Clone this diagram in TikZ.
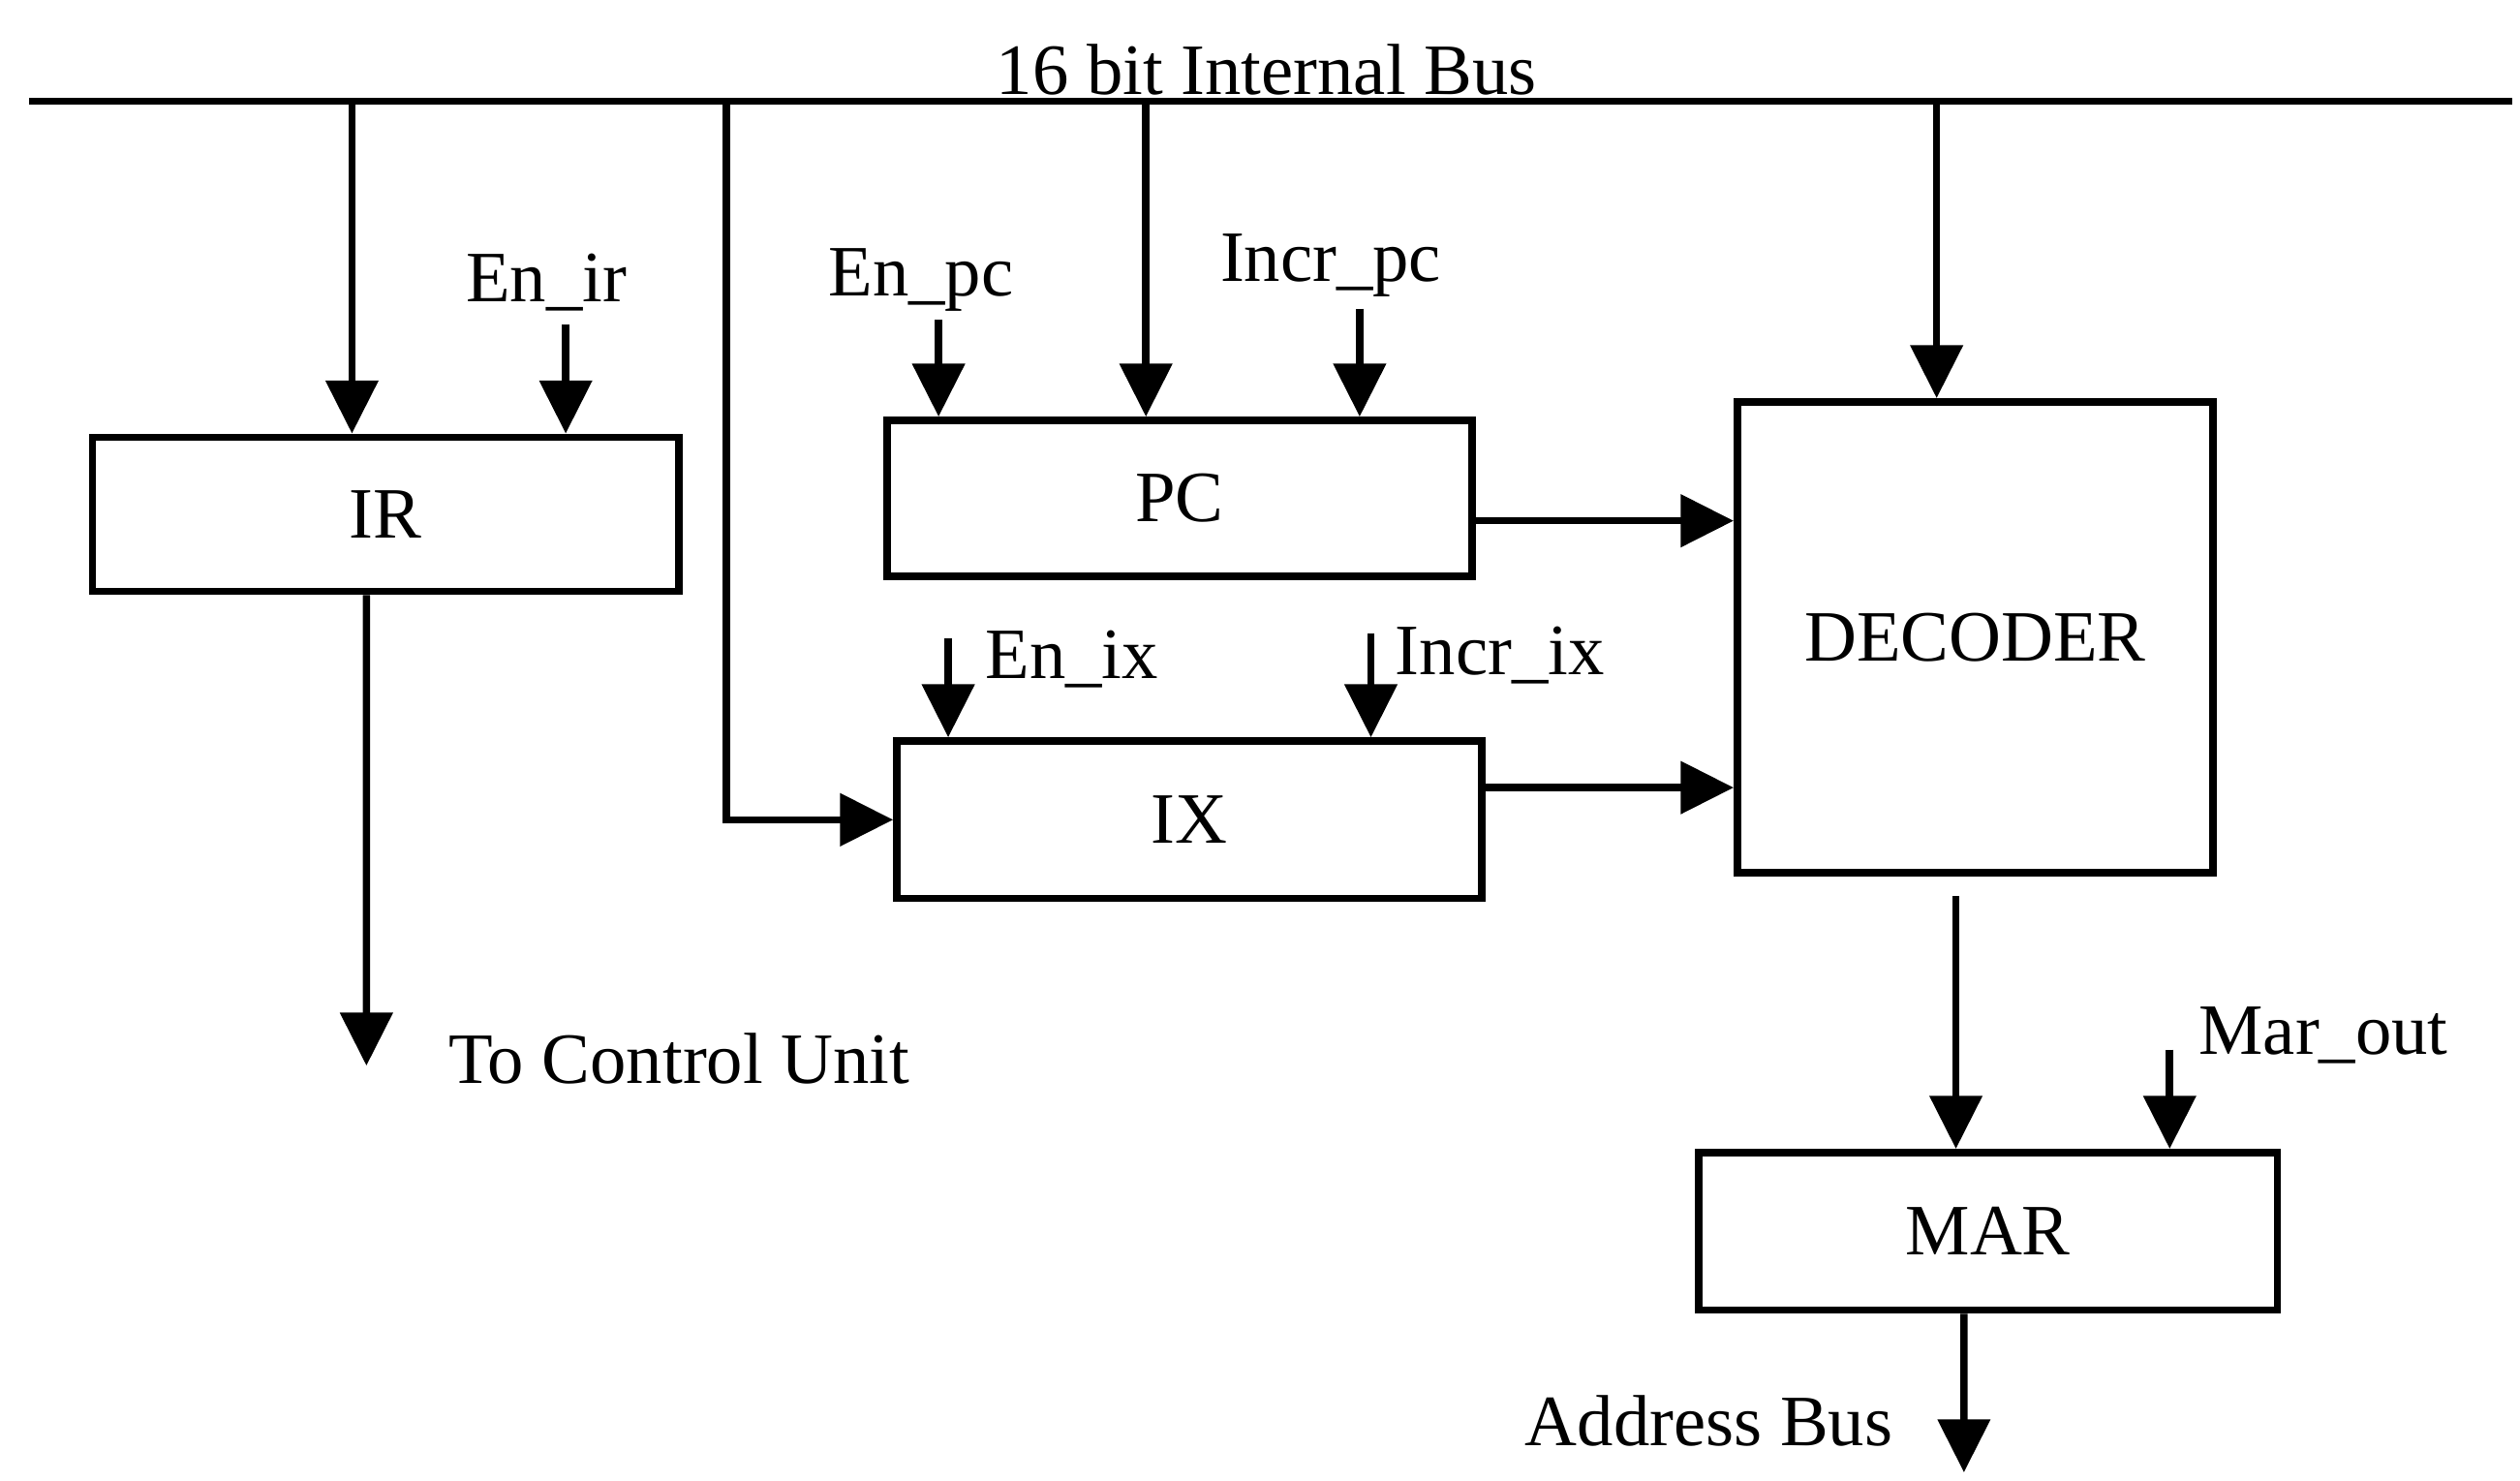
\documentclass[tikz,border=0pt]{standalone}
\usepackage{fontspec}
\setmainfont{Liberation Serif}
\usepackage{tikz}
\usetikzlibrary{arrows.meta,positioning,calc}

\begin{document}
\begin{tikzpicture}[
  line width=1.3pt,
  font=\fontsize{12.8}{15}\selectfont,
  reg/.style={draw,line width=1.3pt,inner sep=0pt},
  arr/.style={-{Triangle[length=3.3mm,width=3.2mm]}},
  sig/.style={inner sep=0pt}]
 \useasboundingbox (0,0) rectangle (15.68,-9.21);
 % internal bus
 \coordinate (busl) at (0.18,-0.63);
 \coordinate (busr) at (15.63,-0.63);
 \draw (busl) -- (busr);
 \node[sig,anchor=base] (busname) at (7.88,-0.59) {16 bit Internal Bus};
 % registers
 \node[reg,minimum width=3.65cm,minimum height=0.96cm] (ir) at (2.40,-3.20) {IR};
 \node[reg,minimum width=3.64cm,minimum height=0.97cm] (pc) at (7.34,-3.10) {PC};
 \node[reg,minimum width=3.64cm,minimum height=0.98cm] (ix) at (7.40,-5.10) {IX};
 \node[reg,minimum width=2.96cm,minimum height=2.93cm] (dec) at (12.29,-3.965) {DECODER};
 \node[reg,minimum width=3.60cm,minimum height=0.98cm] (mar) at (12.37,-7.66) {MAR};
 % taps off the bus
 \coordinate (b1) at (2.19,-0.63);
 \coordinate (b2) at (4.52,-0.63);
 \coordinate (b3) at (7.13,-0.63);
 \coordinate (b4) at (12.05,-0.63);
 \draw[arr] (b1) -- (b1 |- ir.north);
 \draw[arr] (b2) |- (ix.west);
 \draw[arr] (b3) -- (b3 |- pc.north);
 \draw[arr] (b4) -- (b4 |- dec.north);
 % control signals, label above
 \foreach \nm/\txt/\lx/\ly/\ax/\ay/\reg in {
   enir/{En\_ir}/3.40/-1.88/3.52/-2.02/ir,
   enpc/{En\_pc}/5.73/-1.84/5.84/-1.99/pc,
   incpc/{Incr\_pc}/8.28/-1.75/8.46/-1.92/pc} {
   \node[sig,anchor=base] (\nm) at (\lx,\ly) {\txt};
   \coordinate (s\nm) at (\ax,\ay);
   \draw[arr] (s\nm) -- (s\nm |- \reg.north);
 }
 % control signals, label at the right
 \foreach \nm/\txt/\lx/\ly/\ax/\ay/\reg in {
   enix/{En\_ix}/6.11/-4.22/5.90/-3.97/ix,
   incix/{Incr\_ix}/8.66/-4.20/8.53/-3.94/ix,
   marout/{Mar\_out}/13.66/-6.56/13.50/-6.53/mar} {
   \node[sig,anchor=base west] (\nm) at (\lx,\ly) {\txt};
   \coordinate (s\nm) at (\ax,\ay);
   \draw[arr] (s\nm) -- (s\nm |- \reg.north);
 }
 % into the decoder
 \coordinate (pco) at ([yshift=-1.4mm]pc.east);
 \coordinate (ixo) at ([yshift=2mm]ix.east);
 \draw[arr] (pco) -- (pco -| dec.west);
 \draw[arr] (ixo) -- (ixo -| dec.west);
 % decoder to MAR
 \coordinate (deco) at ([xshift=-1.2mm,yshift=-1.2mm]dec.south);
 \draw[arr] (deco) -- (deco |- mar.north);
 % outputs
 \coordinate (maro) at ([xshift=-1.5mm]mar.south);
 \coordinate (abus) at (12.22,-9.16);
 \draw[arr] (maro) -- (abus);
 \node[sig,anchor=base east] (abusname) at (11.80,-8.995) {Address Bus};
 \coordinate (iro) at ([xshift=-1.2mm]ir.south);
 \coordinate (cu) at (2.28,-6.63);
 \draw[arr] (iro) -- (cu);
 \node[sig,anchor=base west] (cuname) at (2.77,-6.74) {To Control Unit};
\end{tikzpicture}
\end{document}
